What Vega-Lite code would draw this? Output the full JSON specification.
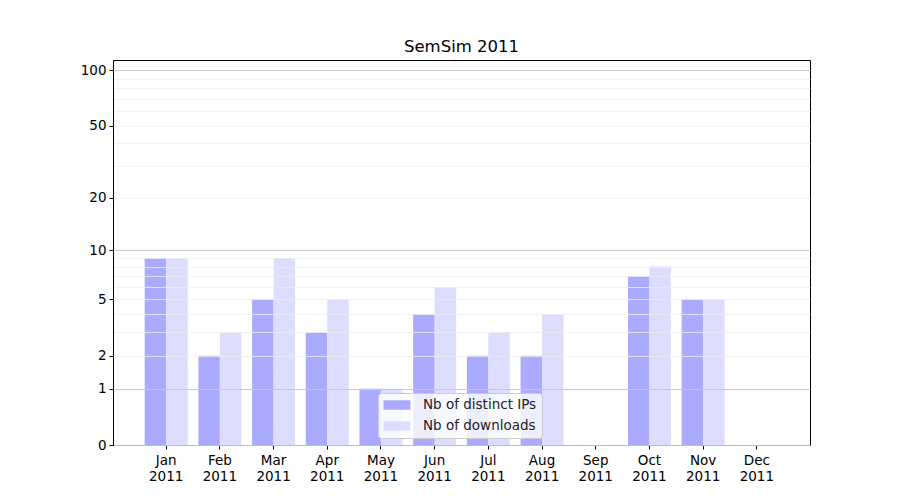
{
  "$schema": "https://vega.github.io/schema/vega-lite/v6.json",
  "autosize": {"type": "none"},
  "width": 697,
  "height": 385,
  "padding": {"left": 113, "top": 60, "right": 90, "bottom": 55},
  "background": "white",
  "title": {"text": "SemSim 2011", "fontSize": 16.5, "fontWeight": "normal", "font": "DejaVu Sans", "color": "black", "offset": 5, "anchor": "middle"},
  "config": {
    "view": {"stroke": "black", "strokeWidth": 1},
    "font": "DejaVu Sans"
  },
  "data": {
    "values": [
      {"month": "Jan", "series": "Nb of distinct IPs", "value": 9},
      {"month": "Jan", "series": "Nb of downloads", "value": 9},
      {"month": "Feb", "series": "Nb of distinct IPs", "value": 2},
      {"month": "Feb", "series": "Nb of downloads", "value": 3},
      {"month": "Mar", "series": "Nb of distinct IPs", "value": 5},
      {"month": "Mar", "series": "Nb of downloads", "value": 9},
      {"month": "Apr", "series": "Nb of distinct IPs", "value": 3},
      {"month": "Apr", "series": "Nb of downloads", "value": 5},
      {"month": "May", "series": "Nb of distinct IPs", "value": 1},
      {"month": "May", "series": "Nb of downloads", "value": 1},
      {"month": "Jun", "series": "Nb of distinct IPs", "value": 4},
      {"month": "Jun", "series": "Nb of downloads", "value": 6},
      {"month": "Jul", "series": "Nb of distinct IPs", "value": 2},
      {"month": "Jul", "series": "Nb of downloads", "value": 3},
      {"month": "Aug", "series": "Nb of distinct IPs", "value": 2},
      {"month": "Aug", "series": "Nb of downloads", "value": 4},
      {"month": "Sep", "series": "Nb of distinct IPs", "value": 0},
      {"month": "Sep", "series": "Nb of downloads", "value": 0},
      {"month": "Oct", "series": "Nb of distinct IPs", "value": 7},
      {"month": "Oct", "series": "Nb of downloads", "value": 8},
      {"month": "Nov", "series": "Nb of distinct IPs", "value": 5},
      {"month": "Nov", "series": "Nb of downloads", "value": 5},
      {"month": "Dec", "series": "Nb of distinct IPs", "value": 0},
      {"month": "Dec", "series": "Nb of downloads", "value": 0}
    ]
  },
  "mark": {"type": "bar"},
  "encoding": {
    "x": {
      "field": "month", "type": "nominal",
      "sort": ["Jan","Feb","Mar","Apr","May","Jun","Jul","Aug","Sep","Oct","Nov","Dec"],
      "scale": {"paddingInner": 0.2, "paddingOuter": 0.59},
      "axis": {
        "title": null, "labelAngle": 0, "labelExpr": "[datum.label, '2011']",
        "labelFontSize": 13.5, "labelColor": "black", "labelLineHeight": 16.5,
        "tickColor": "black", "tickSize": 4, "domainColor": "black", "labelPadding": 4, "grid": false
      }
    },
    "xOffset": {
      "field": "series", "type": "nominal",
      "sort": ["Nb of distinct IPs", "Nb of downloads"],
      "scale": {"paddingInner": 0, "paddingOuter": 0}
    },
    "y": {
      "field": "value", "type": "quantitative",
      "scale": {"type": "symlog", "constant": 1, "domain": [0, 113.5], "nice": false},
      "axis": {
        "title": null,
        "values": [0,1,2,3,4,5,6,7,8,9,10,20,30,40,50,60,70,80,90,100],
        "labelExpr": "indexof([0,1,2,5,10,20,50,100], datum.value) >= 0 ? datum.label : ''",
        "labelFontSize": 13.5, "labelColor": "black", "labelPadding": 3,
        "tickColor": "black", "tickSize": 4,
        "tickOpacity": {"condition": {"test": "indexof([0,1,2,5,10,20,50,100], datum.value) >= 0", "value": 1}, "value": 0},
        "domainColor": "black",
        "grid": true, "zindex": 1,
        "gridColor": {"condition": {"test": "datum.value === 1 || datum.value === 10 || datum.value === 100", "value": "#c8c8c8"}, "value": "#ececec"},
        "gridOpacity": {"condition": {"test": "datum.value === 1 || datum.value === 10 || datum.value === 100", "value": 1}, "value": 0.8}
      }
    },
    "color": {
      "field": "series", "type": "nominal",
      "sort": ["Nb of distinct IPs", "Nb of downloads"],
      "scale": {"range": ["#aaaaff", "#ddddff"]},
      "legend": {
        "title": null, "orient": "none", "legendX": 265, "legendY": 333,
        "fillColor": "rgba(255,255,255,0.8)", "strokeColor": "#cccccc", "cornerRadius": 3,
        "padding": 5, "labelFontSize": 13.5, "labelColor": "#222222", "rowPadding": 7,
        "symbolType": "M-2,-0.7H2V0.7H-2Z", "symbolSize": 182, "symbolStrokeWidth": 0,
        "symbolOffset": 7, "labelOffset": 19, "labelLimit": 300, "zindex": 2
      }
    }
  }
}
